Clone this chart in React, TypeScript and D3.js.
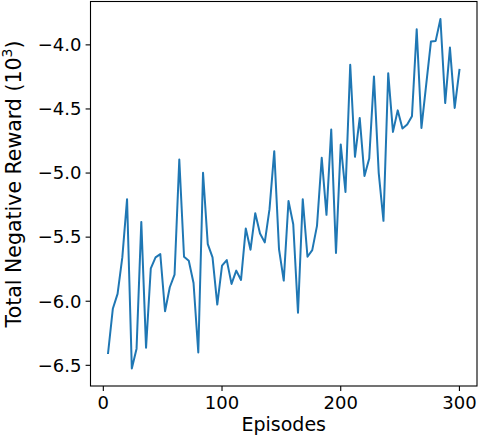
import React from "react";
import * as d3 from "d3";

const episodes: number[] = d3.range(4, 301, 4);
const rewards: number[] = [
  -6.404, -6.059, -5.943, -5.658, -5.204, -6.525, -6.37, -5.381, -6.362, -5.743,
  -5.658, -5.632, -6.078, -5.891, -5.793, -4.894, -5.653, -5.684, -5.858, -6.4,
  -4.998, -5.554, -5.658, -6.026, -5.723, -5.679, -5.865, -5.761, -5.834, -5.433,
  -5.598, -5.313, -5.471, -5.541, -5.282, -4.829, -5.593, -5.839, -5.218, -5.399,
  -6.09, -5.204, -5.653, -5.601, -5.412, -4.881, -5.326, -4.661, -5.624, -4.777,
  -5.148, -4.155, -4.873, -4.57, -5.023, -4.886, -4.246, -4.998, -5.373, -4.221,
  -4.679, -4.511, -4.653, -4.622, -4.557, -3.879, -4.648, -4.311, -3.974, -3.969,
  -3.798, -4.454, -4.021, -4.492, -4.195,
];
const xTicks: number[] = [0, 100, 200, 300];
const yTicks: number[] = [-6.5, -6.0, -5.5, -5.0, -4.5, -4.0];

const W = 479;
const H = 440;
const left = 90.5;
const right = 477;
const top = 1.5;
const bottom = 386;
const FONT = "DejaVu Sans, sans-serif";

export default function App() {
  const xExt = d3.extent(episodes) as [number, number];
  const xPad = (xExt[1] - xExt[0]) * 0.05;
  const yExt = d3.extent(rewards) as [number, number];
  const yPad = (yExt[1] - yExt[0]) * 0.05;
  const x = d3.scaleLinear().domain([xExt[0] - xPad, xExt[1] + xPad]).range([left, right]);
  const y = d3.scaleLinear().domain([yExt[0] - yPad, yExt[1] + yPad]).range([bottom, top]);
  const line = d3
    .line<number>()
    .x((_, i) => x(episodes[i]))
    .y((d) => y(d));
  const fmt = (v: number) => v.toFixed(1).replace("-", "\u2212");

  return (
    <svg
      width={W}
      height={H}
      style={{ position: "absolute", left: 0, top: 0, background: "#fff" }}
      fontFamily={FONT}
    >
      <path d={line(rewards) || ""} fill="none" stroke="#1f77b4" strokeWidth={2} strokeLinejoin="round" strokeLinecap="square" />
      <rect x={left} y={top} width={right - left} height={bottom - top} fill="none" stroke="#000" strokeWidth={1.1} />
      {xTicks.map((t) => (
        <g key={t} transform={`translate(${x(t)},${bottom})`}>
          <line y1={0} y2={4.9} stroke="#000" strokeWidth={1.1} />
          <text y={23} textAnchor="middle" fontSize={18} fill="#000">
            {t}
          </text>
        </g>
      ))}
      {yTicks.map((t) => (
        <g key={t} transform={`translate(${left},${y(t)})`}>
          <line x1={0} x2={-4.9} stroke="#000" strokeWidth={1.1} />
          <text x={-9} dy="0.35em" textAnchor="end" fontSize={18} fill="#000">
            {fmt(t)}
          </text>
        </g>
      ))}
      <text x={(left + right) / 2} y={431} textAnchor="middle" fontSize={19} fill="#000">
        Episodes
      </text>
      <text
        transform={`translate(21,184) rotate(-90)`}
        textAnchor="middle"
        fontSize={20.5}
        fill="#000"
      >
        Total Negative Reward (10
        <tspan fontSize={14} dy={-9}>3</tspan>
        <tspan dy={9}>)</tspan>
      </text>
    </svg>
  );
}
